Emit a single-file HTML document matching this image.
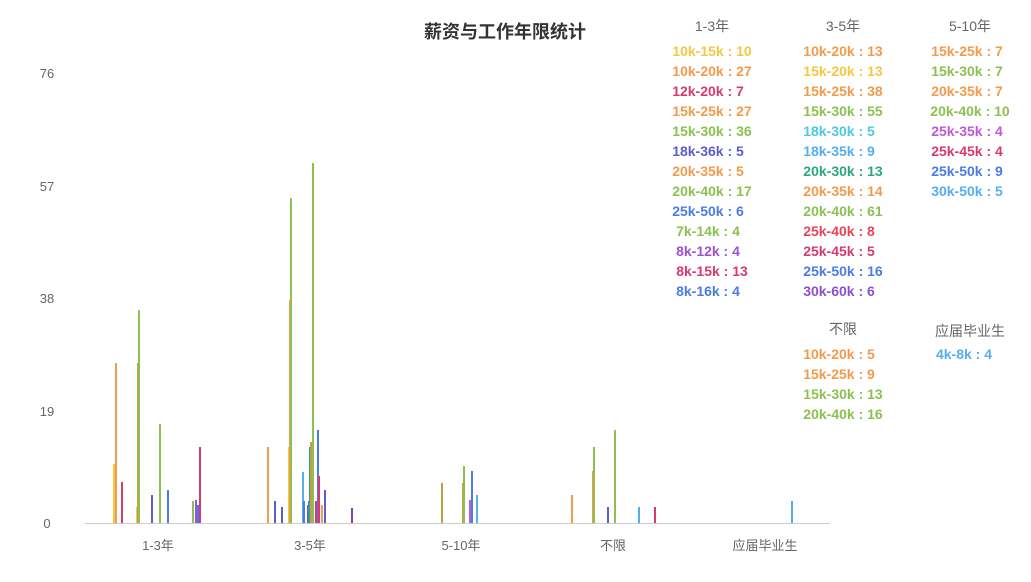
<!DOCTYPE html>
<html><head><meta charset="utf-8"><style>
html,body{margin:0;padding:0;background:#fff;}
svg{display:block;font-family:"Liberation Sans","Noto Sans CJK SC",sans-serif;}
.g{fill:#666;font-size:13px;}
.h{fill:#666;font-size:14px;text-anchor:middle;}
.l{font-size:14px;font-weight:bold;text-anchor:middle;}
</style></head><body>
<svg width="1031" height="582" viewBox="0 0 1031 582">
<text x="505" y="38" text-anchor="middle" font-size="18" font-weight="bold" fill="#333">薪资与工作年限统计</text>
<g class="g" text-anchor="middle">
<text x="47" y="78">76</text><text x="47" y="191">57</text><text x="47" y="303">38</text><text x="47" y="416">19</text><text x="47" y="528">0</text>
<text x="158" y="550">1-3年</text><text x="310" y="550">3-5年</text><text x="461" y="550">5-10年</text><text x="613" y="550">不限</text><text x="765" y="550">应届毕业生</text>
</g>
<line x1="85" y1="523.5" x2="830" y2="523.5" stroke="#ccc" stroke-width="1"/>
<g stroke-width="2">
<line x1="114" y1="523" x2="114" y2="464" stroke="#f5c842"/>
<line x1="116" y1="523" x2="116" y2="363" stroke="#f39a4c"/>
<line x1="122" y1="523" x2="122" y2="482" stroke="#d63a6e"/>
<line x1="137" y1="523" x2="137" y2="507" stroke="#f5c842"/>
<line x1="138" y1="523" x2="138" y2="363" stroke="#c0a040"/>
<line x1="139" y1="523" x2="139" y2="310" stroke="#8cc152"/>
<line x1="152" y1="523" x2="152" y2="495" stroke="#5a5fc8"/>
<line x1="160" y1="523" x2="160" y2="424" stroke="#8cc152"/>
<line x1="168" y1="523" x2="168" y2="490" stroke="#4b7be5"/>
<line x1="193" y1="523" x2="193" y2="501" stroke="#8cc152"/>
<line x1="196" y1="523" x2="196" y2="500" stroke="#a050d8"/>
<line x1="198" y1="523" x2="198" y2="505" stroke="#4b7be5"/>
<line x1="200" y1="523" x2="200" y2="447" stroke="#d63a6e"/>
<line x1="268" y1="523" x2="268" y2="447" stroke="#f39a4c"/>
<line x1="275" y1="523" x2="275" y2="501" stroke="#5a5fc8"/>
<line x1="282" y1="523" x2="282" y2="507" stroke="#5a5fc8"/>
<line x1="289" y1="523" x2="289" y2="447" stroke="#f5c842"/>
<line x1="290" y1="523" x2="290" y2="300" stroke="#f39a4c"/>
<line x1="291" y1="523" x2="291" y2="198" stroke="#8cc152"/>
<line x1="303" y1="523" x2="303" y2="472" stroke="#55aef0"/>
<line x1="304" y1="523" x2="304" y2="501" stroke="#4b7be5"/>
<line x1="308" y1="523" x2="308" y2="505" stroke="#5a5fc8"/>
<line x1="309" y1="523" x2="309" y2="501" stroke="#4b7be5"/>
<line x1="310" y1="523" x2="310" y2="447" stroke="#2aa87a"/>
<line x1="311" y1="523" x2="311" y2="442" stroke="#c0a040"/>
<line x1="313" y1="523" x2="313" y2="163" stroke="#8cc152"/>
<line x1="316" y1="523" x2="316" y2="501" stroke="#d63a6e"/>
<line x1="318" y1="523" x2="318" y2="430" stroke="#4b7be5"/>
<line x1="319" y1="523" x2="319" y2="476" stroke="#d63a6e"/>
<line x1="322" y1="523" x2="322" y2="505" stroke="#f39a4c"/>
<line x1="325" y1="523" x2="325" y2="490" stroke="#5a5fc8"/>
<line x1="352" y1="523" x2="352" y2="508" stroke="#8a3fb0"/>
<line x1="442" y1="523" x2="442" y2="483" stroke="#c0a040"/>
<line x1="463" y1="523" x2="463" y2="483" stroke="#c0a040"/>
<line x1="464" y1="523" x2="464" y2="466" stroke="#8cc152"/>
<line x1="470" y1="523" x2="470" y2="500" stroke="#c058d8"/>
<line x1="472" y1="523" x2="472" y2="471" stroke="#4b7be5"/>
<line x1="477" y1="523" x2="477" y2="495" stroke="#55aef0"/>
<line x1="572" y1="523" x2="572" y2="495" stroke="#f39a4c"/>
<line x1="593" y1="523" x2="593" y2="471" stroke="#f39a4c"/>
<line x1="594" y1="523" x2="594" y2="447" stroke="#8cc152"/>
<line x1="608" y1="523" x2="608" y2="507" stroke="#5a5fc8"/>
<line x1="615" y1="523" x2="615" y2="430" stroke="#8cc152"/>
<line x1="639" y1="523" x2="639" y2="507" stroke="#55aef0"/>
<line x1="655" y1="523" x2="655" y2="507" stroke="#d63a6e"/>
<line x1="792" y1="523" x2="792" y2="501" stroke="#55aef0"/>
</g>
<text class="h" x="712" y="31">1-3年</text>
<text class="h" x="843" y="31">3-5年</text>
<text class="h" x="970" y="31">5-10年</text>
<text class="h" x="843" y="334">不限</text>
<text class="h" x="970" y="336">应届毕业生</text>
<g class="l">
<text x="712" y="56" fill="#f5c842">10k-15k : 10</text>
<text x="712" y="76" fill="#f39a4c">10k-20k : 27</text>
<text x="708" y="96" fill="#d63a6e">12k-20k : 7</text>
<text x="712" y="116" fill="#f39a4c">15k-25k : 27</text>
<text x="712" y="136" fill="#8cc152">15k-30k : 36</text>
<text x="708" y="156" fill="#5a5fc8">18k-36k : 5</text>
<text x="708" y="176" fill="#f39a4c">20k-35k : 5</text>
<text x="712" y="196" fill="#8cc152">20k-40k : 17</text>
<text x="708" y="216" fill="#4b7be5">25k-50k : 6</text>
<text x="708" y="236" fill="#8cc152">7k-14k : 4</text>
<text x="708" y="256" fill="#a050d8">8k-12k : 4</text>
<text x="712" y="276" fill="#d63a6e">8k-15k : 13</text>
<text x="708" y="296" fill="#4b7be5">8k-16k : 4</text>
<text x="843" y="56" fill="#f39a4c">10k-20k : 13</text>
<text x="843" y="76" fill="#f5c842">15k-20k : 13</text>
<text x="843" y="96" fill="#f39a4c">15k-25k : 38</text>
<text x="843" y="116" fill="#8cc152">15k-30k : 55</text>
<text x="839" y="136" fill="#4cc8e0">18k-30k : 5</text>
<text x="839" y="156" fill="#55aef0">18k-35k : 9</text>
<text x="843" y="176" fill="#2aa87a">20k-30k : 13</text>
<text x="843" y="196" fill="#f39a4c">20k-35k : 14</text>
<text x="843" y="216" fill="#8cc152">20k-40k : 61</text>
<text x="839" y="236" fill="#e8435a">25k-40k : 8</text>
<text x="839" y="256" fill="#d63a6e">25k-45k : 5</text>
<text x="843" y="276" fill="#4b7be5">25k-50k : 16</text>
<text x="839" y="296" fill="#8a50d0">30k-60k : 6</text>
<text x="967" y="56" fill="#f39a4c">15k-25k : 7</text>
<text x="967" y="76" fill="#8cc152">15k-30k : 7</text>
<text x="967" y="96" fill="#f39a4c">20k-35k : 7</text>
<text x="970" y="116" fill="#8cc152">20k-40k : 10</text>
<text x="967" y="136" fill="#c058d8">25k-35k : 4</text>
<text x="967" y="156" fill="#d63a6e">25k-45k : 4</text>
<text x="967" y="176" fill="#4b7be5">25k-50k : 9</text>
<text x="967" y="196" fill="#55aef0">30k-50k : 5</text>
<text x="839" y="359" fill="#f39a4c">10k-20k : 5</text>
<text x="839" y="379" fill="#f39a4c">15k-25k : 9</text>
<text x="843" y="399" fill="#8cc152">15k-30k : 13</text>
<text x="843" y="419" fill="#8cc152">20k-40k : 16</text>
<text x="964" y="359" fill="#55aef0">4k-8k : 4</text>
</g>
</svg>
</body></html>
